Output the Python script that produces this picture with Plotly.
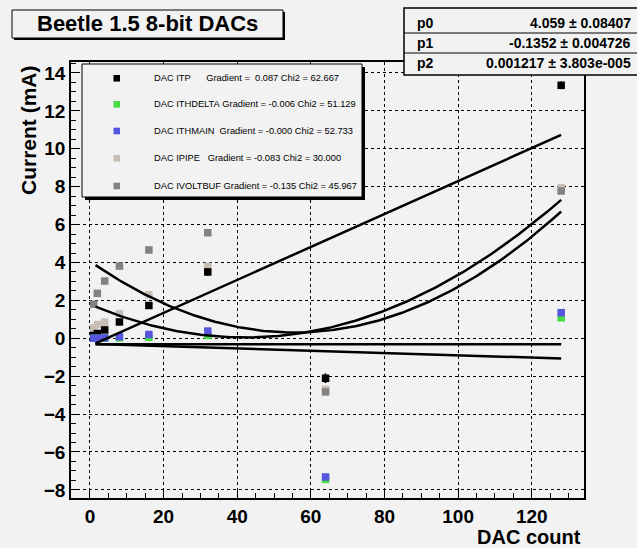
import numpy as np
import plotly.graph_objects as go

# ---------------- data ----------------
dac = [1, 2, 4, 8, 16, 32, 64, 128]
itp = [0.15, 0.25, 0.44, 0.86, 1.73, 3.50, -2.11, 13.35]
ithdelta = [0.0, 0.0, 0.0, 0.02, 0.05, 0.15, -7.45, 1.08]
ithmain = [0.0, 0.0, 0.02, 0.08, 0.20, 0.38, -7.32, 1.35]
ipipe = [0.55, 0.72, 0.85, 1.30, 2.30, 3.80, -2.70, 7.95]
ivoltbuf = [1.80, 2.37, 3.02, 3.81, 4.66, 5.57, -2.83, 7.77]
itp_err = [0.05, 0.05, 0.08, 0.12, 0.15, 0.2, 0.25, 0.2]

# fit parameters (p0, p1, p2) per series
fit_itp = [-0.40, 0.087, 0.0]
fit_ithdelta = [-0.30, -0.006, 0.0]
fit_ithmain = [-0.32, 0.0, 0.0]
fit_ipipe = [1.79, -0.083, 0.000985]
fit_ivoltbuf = [4.059, -0.1352, 0.001217]
fit_range = [1.5, 128]

names = ["DAC ITP", "DAC ITHDELTA", "DAC ITHMAIN", "DAC IPIPE", "DAC IVOLTBUF"]
pads = [6, 1, 2, 3, 1]
gradients = ["\u00a00.087", "-0.006", "-0.000", "-0.083", "-0.135"]
chi2 = ["62.667", "51.129", "52.733", "30.000", "45.967"]
colors = ["#000000", "#44dd44", "#5555dd", "#c8beb4", "#828282"]

stat_names = ["p0", "p1", "p2"]
stat_values = ["4.059 \u00b1 0.08407", "-0.1352 \u00b1 0.004726", "0.001217 \u00b1 3.803e-005"]

title = "Beetle 1.5 8-bit DACs"
x_title = "DAC count"
y_title = "Current (mA)"
x_range = [-5.16, 134.2]
y_range = [-8.43, 14.58]

# ---------------- layout helpers ----------------
W, H = 637, 548
ML, MR, MT, MB = 71, 53, 62, 50
PW, PH = W - ML - MR, H - MT - MB
BG = "#f2f2f2"
FONT = "Liberation Sans, Arial, sans-serif"


def fx(px):
    return (px - ML) / PW


def fy(py):
    return (H - MB - py) / PH


fig = go.Figure()

series = [
    (ipipe, 3, None),
    (itp, 0, itp_err),
    (ithdelta, 1, None),
    (ithmain, 2, None),
    (ivoltbuf, 4, None),
]
for vals, ci, err in series:
    fig.add_trace(go.Scatter(
        x=dac, y=vals, mode="markers",
        marker=dict(symbol="square", size=7.5, color=colors[ci], line=dict(width=0)),
        error_y=(dict(type="data", array=err, visible=True, color=colors[ci],
                      thickness=2, width=0) if err else None),
        showlegend=False, hoverinfo="skip",
    ))

xs = np.linspace(fit_range[0], fit_range[1], 200)
for p in [fit_itp, fit_ithdelta, fit_ithmain, fit_ipipe, fit_ivoltbuf]:
    ys = p[0] + p[1] * xs + p[2] * xs ** 2
    fig.add_trace(go.Scatter(x=xs, y=ys, mode="lines",
                             line=dict(color="black", width=2.5),
                             showlegend=False, hoverinfo="skip"))

axis_common = dict(
    showline=True, linecolor="black", linewidth=1.5, mirror=True,
    ticks="inside", ticklen=9, tickwidth=1, tickcolor="black",
    showgrid=True, gridcolor="black", gridwidth=1, griddash="dot",
    zeroline=False,
    tickfont=dict(family=FONT, size=19, color="black", weight="bold"),
)
fig.update_xaxes(range=x_range, dtick=20, tick0=0,
                 minor=dict(dtick=5, ticks="inside", ticklen=5, tickcolor="black", showgrid=False),
                 **axis_common)
fig.update_yaxes(range=y_range, dtick=2, tick0=0,
                 minor=dict(dtick=0.5, ticks="inside", ticklen=5, tickcolor="black", showgrid=False),
                 **axis_common)

shapes = []
annotations = []


def box(x0, y0, x1, y1, shadow=2, lw=1):
    if shadow:
        shapes.append(dict(type="rect", xref="paper", yref="paper", layer="above",
                           x0=fx(x0 + shadow), x1=fx(x1 + shadow), y0=fy(y0 + shadow), y1=fy(y1 + shadow),
                           fillcolor="black", line=dict(width=0)))
    shapes.append(dict(type="rect", xref="paper", yref="paper", layer="above",
                       x0=fx(x0), x1=fx(x1), y0=fy(y0), y1=fy(y1),
                       fillcolor=BG, line=dict(color="black", width=lw)))


# title box
box(12, 10, 283, 38, shadow=2)
annotations.append(dict(xref="paper", yref="paper", x=fx(147.5), y=fy(24), text=title,
                        showarrow=False, xanchor="center", yanchor="middle",
                        font=dict(family=FONT, size=22, color="black", weight="bold")))

# stats box
box(404, 8, 640, 75, shadow=0, lw=1.5)
row_y = [23, 43, 63]
for i, (n, v) in enumerate(zip(stat_names, stat_values)):
    annotations.append(dict(xref="paper", yref="paper", x=fx(415), y=fy(row_y[i]), text=n,
                            showarrow=False, xanchor="left", yanchor="middle",
                            font=dict(family=FONT, size=14, color="black", weight="bold")))
    annotations.append(dict(xref="paper", yref="paper", x=fx(633), y=fy(row_y[i]), text=v,
                            showarrow=False, xanchor="right", yanchor="middle",
                            font=dict(family=FONT, size=14, color="black", weight="bold")))
for yy in [33, 53]:
    shapes.append(dict(type="line", xref="paper", yref="paper", layer="above",
                       x0=fx(404), x1=fx(640), y0=fy(yy), y1=fy(yy),
                       line=dict(color="black", width=1)))

# legend box
box(82, 64, 362, 197, shadow=3)
leg_y = [78.3, 104.3, 131, 158.3, 186]
for i in range(5):
    shapes.append(dict(type="rect", xref="paper", yref="paper", layer="above",
                       x0=fx(113.5), x1=fx(120), y0=fy(leg_y[i] - 3.3), y1=fy(leg_y[i] + 3.3),
                       fillcolor=colors[i], line=dict(width=0)))
    txt = names[i] + "\u00a0" * pads[i] + "Gradient = " + gradients[i] + " Chi2 = " + chi2[i]
    annotations.append(dict(xref="paper", yref="paper", x=fx(151.7), y=fy(leg_y[i]), text=txt,
                            showarrow=False, xanchor="left", yanchor="middle",
                            font=dict(family=FONT, size=9.3, color="black")))

# axis titles
annotations.append(dict(xref="paper", yref="paper", x=fx(583), y=fy(537), text=x_title,
                        showarrow=False, xanchor="right", yanchor="middle",
                        font=dict(family=FONT, size=20, color="black", weight="bold")))
annotations.append(dict(xref="paper", yref="paper", x=fx(28), y=fy(63), text=y_title,
                        showarrow=False, xanchor="center", yanchor="top", textangle=-90,
                        font=dict(family=FONT, size=21, color="black", weight="bold")))

fig.update_layout(
    width=W, height=H,
    margin=dict(l=ML, r=MR, t=MT, b=MB, pad=0),
    paper_bgcolor=BG, plot_bgcolor=BG,
    shapes=shapes, annotations=annotations,
    showlegend=False,
)

fig.write_html("out.html")
